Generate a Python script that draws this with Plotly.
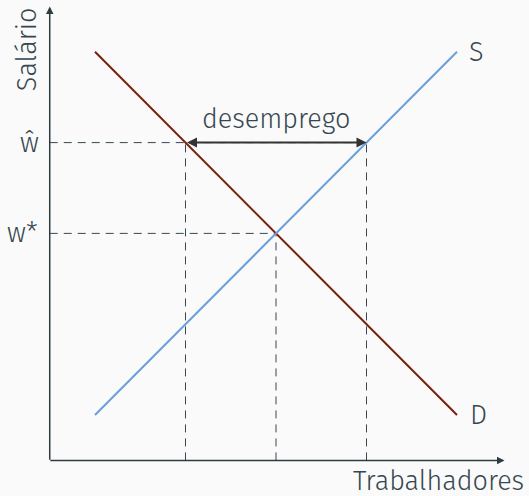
import plotly.graph_objects as go

# curvas de oferta (S) e procura (D) de trabalho
trab = [1, 9]
oferta = [1, 9]
procura = [9, 1]

# salários e quantidades de referência
w_star = 5
w_hat = 7
L_star = 5
L_procura = 3   # procura a w_hat
L_oferta = 7    # oferta a w_hat

eixo_max = 10

TXT = "#37474f"
EIXO = "#2e3c40"
FONT = "Fira Sans, Open Sans, sans-serif"
FS = 27

fig = go.Figure()

dash = "8px,6px"
# guias tracejadas horizontais
fig.add_trace(go.Scatter(x=[0, L_oferta], y=[w_hat, w_hat], mode="lines",
                         line=dict(color=TXT, width=1, dash=dash)))
fig.add_trace(go.Scatter(x=[0, L_star], y=[w_star, w_star], mode="lines",
                         line=dict(color=TXT, width=1, dash=dash)))
# guias verticais
for xv, yv in [(L_procura, w_hat), (L_star, w_star), (L_oferta, w_hat)]:
    fig.add_trace(go.Scatter(x=[xv, xv], y=[0, yv], mode="lines",
                             line=dict(color=TXT, width=1, dash=dash)))

fig.add_trace(go.Scatter(x=trab, y=procura, mode="lines",
                         line=dict(color="#7a1e0e", width=2)))
fig.add_trace(go.Scatter(x=trab, y=oferta, mode="lines",
                         line=dict(color="#6a9fd8", width=2)))

# eixos com setas
fig.add_annotation(x=0, y=eixo_max, ax=0, ay=-0.02, xref="x", yref="y",
                   axref="x", ayref="y", showarrow=True, arrowhead=2,
                   arrowsize=1, arrowwidth=1.5, arrowcolor=EIXO, text="")
fig.add_annotation(x=eixo_max + 0.05, y=0, ax=-0.02, ay=0, xref="x", yref="y",
                   axref="x", ayref="y", showarrow=True, arrowhead=2,
                   arrowsize=1, arrowwidth=1.5, arrowcolor=EIXO, text="")

# seta do desemprego
fig.add_annotation(x=L_oferta, y=w_hat, ax=L_procura, ay=w_hat, xref="x", yref="y",
                   axref="x", ayref="y", showarrow=True, arrowhead=2, startarrowhead=2,
                   arrowside="end+start", arrowsize=1, arrowwidth=2,
                   arrowcolor="#333333", text="")

lbl = dict(size=FS, color=TXT, family=FONT, weight=300)
fig.add_annotation(x=(L_procura + L_oferta) / 2, y=w_hat, text="desemprego",
                   showarrow=False, yanchor="bottom", yshift=6, font=lbl)

# rótulos
fig.add_annotation(x=0, y=w_hat, text="ŵ", showarrow=False, xanchor="right",
                   xshift=-9, font=lbl)
fig.add_annotation(x=0, y=w_star, text="w*", showarrow=False, xanchor="right",
                   xshift=-10, font=lbl)
fig.add_annotation(x=trab[1], y=oferta[1], text="S", showarrow=False, xanchor="left",
                   xshift=10, font=lbl)
fig.add_annotation(x=trab[1], y=procura[1], text="D", showarrow=False, xanchor="left",
                   xshift=11, font=lbl)
fig.add_annotation(x=10.591, y=0, text="Trabalhadores", showarrow=False,
                   xanchor="right", yanchor="top", xshift=-3, yshift=-3, font=lbl)
fig.add_annotation(x=0, y=eixo_max, text="Salário", showarrow=False, textangle=-90,
                   xanchor="right", yanchor="top", xshift=-4, yshift=1, font=lbl)

fig.update_xaxes(range=[-1.099, 10.591], visible=False)
fig.update_yaxes(range=[-0.784, 10.141], visible=False)
fig.update_layout(width=529, height=496, margin=dict(l=0, r=0, t=0, b=0),
                  showlegend=False, plot_bgcolor="#fafafa", paper_bgcolor="#fafafa")

# sem margem do body, para a figura ocupar a janela toda
fig.write_html("out.html", config={"displayModeBar": False},
               post_script="document.body.style.margin='0';")
